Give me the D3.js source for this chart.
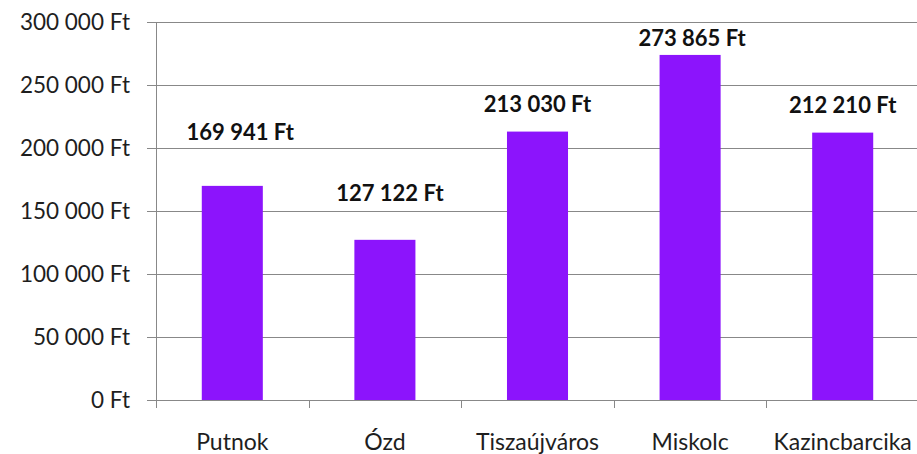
<!DOCTYPE html>
<html>
<head>
<meta charset="utf-8">
<script src="https://cdn.jsdelivr.net/npm/d3@7"></script>
<style>
  body { margin: 0; background: #fff; }
  svg { display: block; font-family: Lato, "Open Sans", sans-serif; }
</style>
</head>
<body>
<svg id="chart" width="917" height="454"></svg>
<script>
const cities = ["Putnok", "Ózd", "Tiszaújváros", "Miskolc", "Kazincbarcika"];
const salaries = [169941, 127122, 213030, 273865, 212210];
const yTicks = [0, 50000, 100000, 150000, 200000, 250000, 300000];
// labels were dragged by hand in the original, so they sit at uneven heights
const labelLift = [46, 39, 20, 9, 20];
const labelShift = [8, 5, 0, 2, 0];

const plotLeft = 156, plotRight = 919, plotTop = 22, plotBottom = 400;
const barColor = "#8c14fc";
const gridColor = "#888";

const hu = d3.formatLocale({ decimal: ",", thousands: "\u00a0", grouping: [3], currency: ["", " Ft"] });
const fmt = d => hu.format(",")(d) + " Ft";

const svg = d3.select("#chart");

const x = d3.scaleBand()
  .domain(cities)
  .range([plotLeft, plotRight])
  .paddingInner(0.6)
  .paddingOuter(0.3);

const y = d3.scaleLinear()
  .domain([0, 300000])
  .range([plotBottom, plotTop]);

const step = x.step();

// horizontal gridlines + left ticks
svg.append("g")
  .selectAll("line")
  .data(yTicks)
  .join("line")
  .attr("x1", plotLeft - 9)
  .attr("x2", plotRight)
  .attr("y1", d => Math.round(y(d)) + 0.5)
  .attr("y2", d => Math.round(y(d)) + 0.5)
  .attr("stroke", gridColor)
  .attr("stroke-width", 1);

svg.append("g")
  .selectAll("text")
  .data(yTicks)
  .join("text")
  .attr("x", plotLeft - 26)
  .attr("y", d => y(d))
  .attr("dy", "0.36em")
  .attr("text-anchor", "end")
  .attr("font-size", 22.5)
  .attr("fill", "#1e1e1e")
  .text(d => fmt(d));

// y axis line
svg.append("line")
  .attr("x1", plotLeft + 0.5).attr("x2", plotLeft + 0.5)
  .attr("y1", plotTop).attr("y2", plotBottom + 8)
  .attr("stroke", gridColor);

// category ticks on x axis (between categories)
const boundaries = d3.range(cities.length + 1).map(i => plotLeft + i * step);
svg.append("g")
  .selectAll("line")
  .data(boundaries)
  .join("line")
  .attr("x1", d => Math.round(d) + 0.5)
  .attr("x2", d => Math.round(d) + 0.5)
  .attr("y1", plotBottom)
  .attr("y2", plotBottom + 8)
  .attr("stroke", gridColor);

// bars
svg.append("g")
  .selectAll("rect")
  .data(cities)
  .join("rect")
  .attr("x", d => x(d))
  .attr("width", x.bandwidth())
  .attr("y", (d, i) => y(salaries[i]))
  .attr("height", (d, i) => plotBottom - y(salaries[i]))
  .attr("fill", barColor);

// data labels
svg.append("g")
  .selectAll("text")
  .data(cities)
  .join("text")
  .attr("x", (d, i) => x(d) + x.bandwidth() / 2 + labelShift[i])
  .attr("y", (d, i) => y(salaries[i]) - labelLift[i])
  .attr("text-anchor", "middle")
  .attr("font-size", 22)
  .attr("font-weight", "bold")
  .attr("fill", "#111")
  .text((d, i) => fmt(salaries[i]));

// category labels
svg.append("g")
  .selectAll("text")
  .data(cities)
  .join("text")
  .attr("x", d => x(d) + x.bandwidth() / 2)
  .attr("y", 450)
  .attr("text-anchor", "middle")
  .attr("font-size", 23)
  .attr("fill", "#1e1e1e")
  .text(d => d);
</script>
</body>
</html>
